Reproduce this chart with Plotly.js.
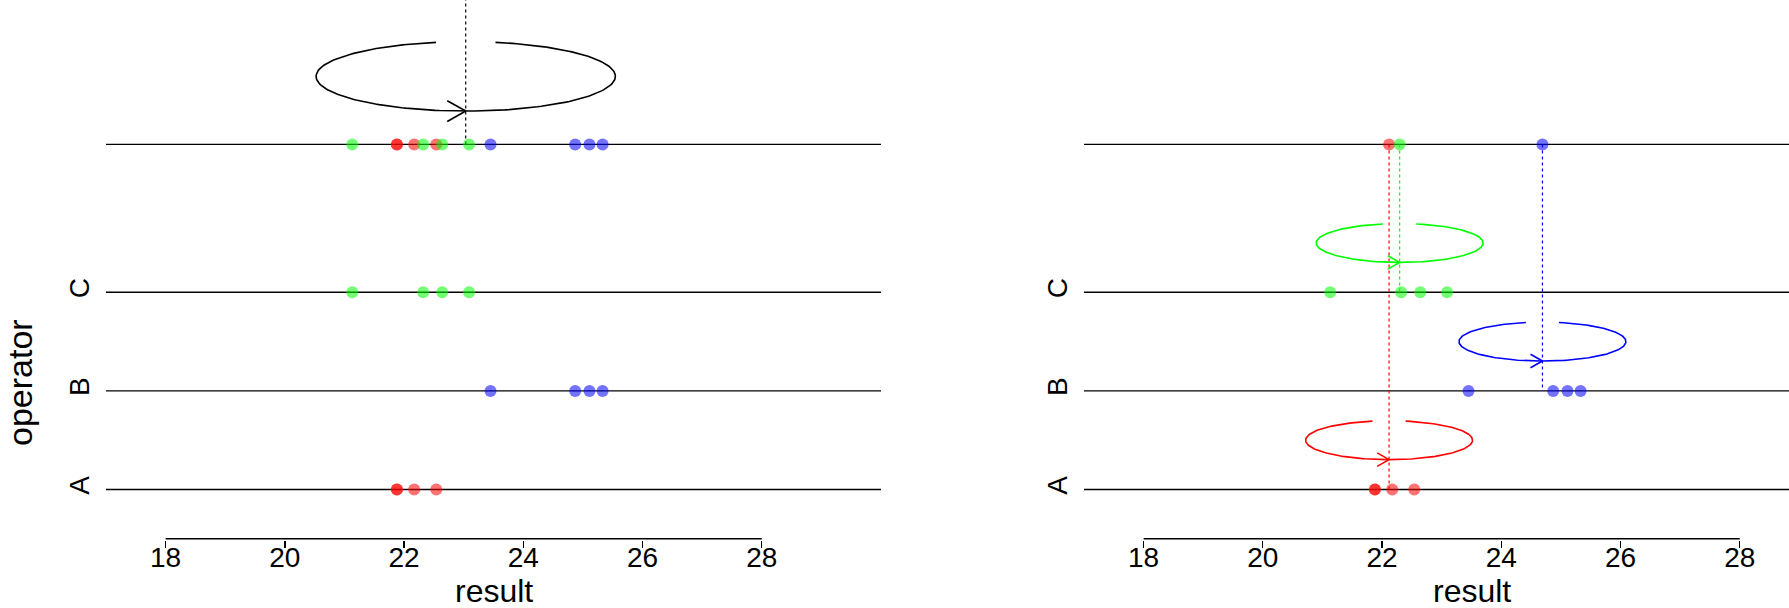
<!DOCTYPE html>
<html>
<head>
<meta charset="utf-8">
<script src="https://cdn.plot.ly/plotly-3.0.1.min.js"></script>
<style>html,body{margin:0;padding:0;background:#fff;}#chart{width:1789px;height:608px;}</style>
</head>
<body>
<div id="chart"></div>
<script>
// ---- data ----
const operators = ['A', 'B', 'C'];
const operatorLevels = [1, 2, 3];
const resultA = [21.88, 21.88, 22.17, 22.54];
const resultB = [23.45, 24.87, 25.11, 25.33];
const resultC = [21.13, 22.32, 22.64, 23.09];
const operatorColors = ['#ff0000', '#0000ff', '#00ff00'];
const operatorFill = ['rgba(255,0,0,0.55)', 'rgba(0,0,255,0.55)', 'rgba(0,255,0,0.55)'];
const pooledLevel = 4.5;
const xTicks = [18, 20, 22, 24, 26, 28];
// ellipse ("rotation") geometry, in data units
const pooledEllipse = [5.19, 2.51, 0.352];   // centre y, x radius, y radius
const groupEllipse = [0.5, 1.40, 0.197];     // offset above level, x radius, y radius
const pooledArrow = [0.31, 0.105];           // arrow head length, half width
const groupArrow = [0.20, 0.068];
const gapAngle = 0.2;

// ---- layout geometry ----
const W = 1789, H = 608;
const xRange = [17, 30];
const leftPx = [106, 881];
const pxPerUnit = (leftPx[1] - leftPx[0]) / (xRange[1] - xRange[0]);
const rightStart = 1084;
const rightRange = [17, 17 + (W - rightStart) / pxPerUnit];
const plotBottomPx = 540;
const yPxPerUnit = 98.6, yA = 489.5;
const yRange = [1 - (plotBottomPx - yA) / yPxPerUnit, 1 + yA / yPxPerUnit];

const groups = [resultA, resultB, resultC];
const mean = a => a.reduce((s, v) => s + v, 0) / a.length;
const all = [].concat(resultA, resultB, resultC);
const grand = mean(all);
const groupMeans = groups.map(mean);

function ellipse(cx, cy, rx, ry, color, xa, ya) {
  const xs = [], ys = [];
  const n = 200;
  const t0 = Math.PI / 2 + gapAngle, t1 = Math.PI / 2 + 2 * Math.PI - gapAngle;
  for (let i = 0; i <= n; i++) {
    const t = t0 + (t1 - t0) * i / n;
    xs.push(cx + rx * Math.cos(t));
    ys.push(cy + ry * Math.sin(t));
  }
  return {x: xs, y: ys, xaxis: xa, yaxis: ya, mode: 'lines', line: {color: color, width: 1.6}, hoverinfo: 'skip', showlegend: false};
}
function arrow(cx, tipY, len, hw, color, xa, ya) {
  return {x: [cx - len, cx, cx - len], y: [tipY + hw, tipY, tipY - hw], xaxis: xa, yaxis: ya,
    mode: 'lines', line: {color: color, width: 1.6}, hoverinfo: 'skip', showlegend: false};
}
function hline(y, xa, ya) {
  return {x: [xRange[0], xRange[1]], y: [y, y], xaxis: xa, yaxis: ya, mode: 'lines',
    line: {color: '#000', width: 1.4}, hoverinfo: 'skip', showlegend: false};
}
function vdot(x, y0, y1, color, xa, ya) {
  return {x: [x, x], y: [y0, y1], xaxis: xa, yaxis: ya, mode: 'lines',
    line: {color: color, width: 1.2, dash: 'dot'}, hoverinfo: 'skip', showlegend: false};
}
function dots(xs, y, fill, xa, ya) {
  return {x: xs, y: xs.map(() => y), xaxis: xa, yaxis: ya, mode: 'markers',
    marker: {size: 12, color: fill, line: {width: 0}}, cliponaxis: false, hoverinfo: 'x', showlegend: false};
}
function axisLine(xa, ya) {
  return {x: [xTicks[0], xTicks[xTicks.length - 1]], y: [0.5, 0.5], xaxis: xa, yaxis: ya, mode: 'lines',
    line: {color: '#000', width: 1.4}, hoverinfo: 'skip', showlegend: false};
}

const traces = [];
// ---- left panel: complete pooling ----
operatorLevels.concat([pooledLevel]).forEach(l => traces.push(hline(l, 'x', 'y')));
traces.push(axisLine('x', 'y'));
traces.push(vdot(grand, pooledLevel, yRange[1] + 1, '#000', 'x', 'y'));
traces.push(ellipse(grand, pooledEllipse[0], pooledEllipse[1], pooledEllipse[2], '#000', 'x', 'y'));
traces.push(arrow(grand, pooledEllipse[0] - pooledEllipse[2], pooledArrow[0], pooledArrow[1], '#000', 'x', 'y'));
groups.forEach((g, i) => {
  traces.push(dots(g, operatorLevels[i], operatorFill[i], 'x', 'y'));
  traces.push(dots(g, pooledLevel, operatorFill[i], 'x', 'y'));
});

// ---- right panel: no pooling ----
operatorLevels.concat([pooledLevel]).forEach(l => traces.push(hline(l, 'x2', 'y2')));
traces.push(axisLine('x2', 'y2'));
groups.forEach((g, i) => {
  const m = groupMeans[i], lev = operatorLevels[i];
  traces.push(vdot(m, pooledLevel, lev, operatorColors[i], 'x2', 'y2'));
  traces.push(ellipse(m, lev + groupEllipse[0], groupEllipse[1], groupEllipse[2], operatorColors[i], 'x2', 'y2'));
  traces.push(arrow(m, lev + groupEllipse[0] - groupEllipse[2], groupArrow[0], groupArrow[1], operatorColors[i], 'x2', 'y2'));
});
groups.forEach((g, i) => {
  traces.push(dots(g, operatorLevels[i], operatorFill[i], 'x2', 'y2'));
  traces.push(dots([groupMeans[i]], pooledLevel, operatorFill[i], 'x2', 'y2'));
});

const font = 'Liberation Sans, Arial, sans-serif';
function xaxisDef(range, domain, anchor) {
  return {
    range: range, domain: domain, anchor: anchor,
    showgrid: false, zeroline: false, showline: false, automargin: false,
    tickmode: 'array', tickvals: xTicks, ticktext: xTicks.map(String),
    ticks: 'outside', ticklen: 7, tickwidth: 1.3, tickcolor: '#000', ticklabelstandoff: -15,
    tickfont: {family: font, size: 28, color: '#000'}, fixedrange: true
  };
}
function yaxisDef(anchor) {
  return {
    range: yRange, domain: [0, 1], anchor: anchor, automargin: false,
    showgrid: false, zeroline: false, showline: false,
    tickmode: 'array', tickvals: operatorLevels, ticktext: operators, tickangle: -90,
    ticks: '', ticklabelstandoff: 10,
    tickfont: {family: font, size: 28, color: '#000'}, fixedrange: true
  };
}

const paperY = px => (plotBottomPx - px) / plotBottomPx;
const layout = {
  width: W, height: H,
  margin: {l: 0, r: 0, t: 0, b: H - plotBottomPx, pad: 0},
  paper_bgcolor: '#fff', plot_bgcolor: '#fff',
  showlegend: false,
  xaxis: xaxisDef(xRange, [leftPx[0] / W, leftPx[1] / W], 'y'),
  yaxis: yaxisDef('x'),
  xaxis2: xaxisDef(rightRange, [rightStart / W, 1], 'y2'),
  yaxis2: yaxisDef('x2'),
  annotations: [
    {text: 'result', xref: 'x', yref: 'paper', x: (xRange[0] + xRange[1]) / 2, y: paperY(591), showarrow: false,
     xanchor: 'center', yanchor: 'middle', font: {family: font, size: 32, color: '#000'}},
    {text: 'result', xref: 'x2', yref: 'paper', x: (xRange[0] + xRange[1]) / 2, y: paperY(591), showarrow: false,
     xanchor: 'center', yanchor: 'middle', font: {family: font, size: 32, color: '#000'}},
    {text: 'operator', xref: 'paper', yref: 'paper', x: 20 / W, y: paperY(383), showarrow: false, textangle: -90,
     xanchor: 'center', yanchor: 'middle', font: {family: font, size: 34, color: '#000'}}
  ]
};

Plotly.newPlot('chart', traces, layout, {displayModeBar: false, staticPlot: true});
</script>
</body>
</html>
